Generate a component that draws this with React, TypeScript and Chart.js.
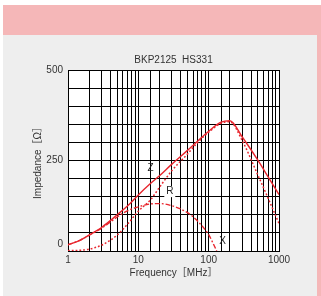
import React, { useEffect, useRef } from 'react';
import { Chart, registerables } from 'chart.js';

Chart.register(...registerables);

const TITLE = 'BKP2125  HS331';
const X_LABEL = 'Frequency［MHz］';
const Y_LABEL = 'Impedance［Ω］';
const X_TICK_LABELS = [1, 10, 100, 1000];
const Y_TICK_LABELS = [0, 250, 500];

const zFreq = [1, 1.5, 2, 3, 4, 5, 7, 10, 15, 20, 30, 50, 70, 100, 150, 200, 300, 500, 700, 1000];
const zVals = [17, 30, 44, 65, 84, 100, 124, 155, 187, 208, 240, 278, 304, 331, 356, 360, 315, 251, 205, 156];

const rFreq = [1, 1.5, 2, 3, 4, 5, 7, 10, 15, 20, 30, 50, 70, 100, 150, 200, 300, 500, 700, 1000];
const rVals = [1, 2, 5, 16, 30, 44, 74, 110, 142, 176, 222, 268, 300, 328, 353, 357, 305, 210, 146, 76];

const xFreq = [1, 1.5, 2, 3, 4, 5, 7, 10, 15, 20, 30, 50, 70, 100, 115, 130];
const xVals = [17, 30, 44, 63, 80, 94, 111, 122, 130, 131, 125, 106, 82, 45, 22, 0];

const curveLabels = [
  { text: 'Z', f: 14.9, v: 228, box: false },
  { text: 'R', f: 28, v: 164, box: true },
  { text: 'X', f: 158, v: 28, box: false },
];

const RED = '#e8262e';
const TEXT = '#333333';
const FONT = "'Liberation Sans', 'Noto Sans CJK JP', Arial, sans-serif";

const toPts = (fs: number[], vs: number[]) => fs.map((f, i) => ({ x: f, y: vs[i] }));

const bgPlugin = {
  id: 'bg',
  beforeDraw(chart: any) {
    const { ctx, width, height, chartArea } = chart;
    ctx.save();
    ctx.fillStyle = '#ffffff';
    ctx.fillRect(0, 0, width, height);
    ctx.fillStyle = '#f5b7b8';
    ctx.fillRect(3, 5, width - 3, height - 5);
    ctx.fillStyle = '#eeeeee';
    ctx.fillRect(3, 35, 314, height - 35);
    ctx.fillStyle = '#ffffff';
    ctx.fillRect(chartArea.left, chartArea.top, chartArea.right - chartArea.left, chartArea.bottom - chartArea.top);
    ctx.restore();
  },
  afterDraw(chart: any) {
    const { ctx, scales } = chart;
    const xs = scales.x;
    const ys = scales.y;
    ctx.save();
    ctx.font = `10px ${FONT}`;
    ctx.fillStyle = TEXT;
    ctx.textAlign = 'right';
    ctx.textBaseline = 'middle';
    Y_TICK_LABELS.forEach((v) => {
      let y = ys.getPixelForValue(v);
      if (v === 0) y -= 7;
      ctx.fillText(String(v), xs.left - 5, y);
    });
    ctx.textAlign = 'center';
    curveLabels.forEach((l) => {
      const px = xs.getPixelForValue(l.f);
      const py = ys.getPixelForValue(l.v);
      if (l.box) {
        ctx.fillStyle = '#ffffff';
        ctx.fillRect(px - 5.5, py - 5.5, 11, 11);
      }
      ctx.fillStyle = '#222222';
      ctx.fillText(l.text, px, py);
    });
    ctx.restore();
  },
};

export default function App() {
  const ref = useRef<HTMLCanvasElement | null>(null);
  useEffect(() => {
    document.body.style.margin = '0';
    if (!ref.current) return;
    const chart = new Chart(ref.current, {
      type: 'line',
      data: {
        datasets: [
          {
            label: 'Z',
            data: toPts(zFreq, zVals),
            borderColor: RED,
            borderWidth: 1.4,
            pointRadius: 0,
            cubicInterpolationMode: 'monotone',
          },
          {
            label: 'R',
            data: toPts(rFreq, rVals),
            borderColor: RED,
            borderWidth: 1.5,
            borderDash: [1.8, 2],
            pointRadius: 0,
            cubicInterpolationMode: 'monotone',
          },
          {
            label: 'X',
            data: toPts(xFreq, xVals),
            borderColor: RED,
            borderWidth: 1.4,
            borderDash: [5, 2, 1.8, 2],
            pointRadius: 0,
            cubicInterpolationMode: 'monotone',
          },
        ],
      },
      options: {
        animation: false,
        responsive: true,
        maintainAspectRatio: false,
        layout: { padding: { left: 0, top: 54, right: 42, bottom: 0 } },
        plugins: {
          legend: { display: false },
          tooltip: { enabled: false },
          title: {
            display: true,
            text: TITLE,
            fullSize: false,
            color: TEXT,
            font: { family: FONT, size: 10, weight: 'normal', lineHeight: 1.2 },
            padding: { top: 0, bottom: 4 },
          },
        },
        scales: {
          x: {
            type: 'logarithmic',
            min: 1,
            max: 1000,
            afterFit: (s: any) => {
              s.height = 45;
            },
            grid: { color: '#000', lineWidth: 1, drawTicks: false },
            border: { display: true, color: '#000', width: 1 },
            ticks: {
              autoSkip: false,
              maxRotation: 0,
              padding: 3,
              color: TEXT,
              font: { family: FONT, size: 10 },
              callback: (v: any) => (X_TICK_LABELS.includes(Number(v)) ? String(v) : ''),
            },
            title: {
              display: true,
              text: X_LABEL,
              color: TEXT,
              font: { family: FONT, size: 10, lineHeight: 1.2 },
              padding: { top: 0, bottom: 17 },
            },
          },
          y: {
            type: 'linear',
            min: 0,
            max: 500,
            afterFit: (s: any) => {
              s.width = 68;
            },
            grid: { color: '#000', lineWidth: 1, drawTicks: false },
            border: { display: true, color: '#000', width: 1 },
            ticks: { display: false, stepSize: 50 },
            title: {
              display: true,
              text: Y_LABEL,
              color: TEXT,
              font: { family: FONT, size: 10, lineHeight: 1.2 },
              padding: { top: 32, bottom: 0 },
            },
          },
        },
      },
      plugins: [bgPlugin],
    } as any);
    return () => chart.destroy();
  }, []);
  return (
    <div style={{ position: 'absolute', left: 0, top: 0, width: 321, height: 296 }}>
      <canvas ref={ref} />
    </div>
  );
}
